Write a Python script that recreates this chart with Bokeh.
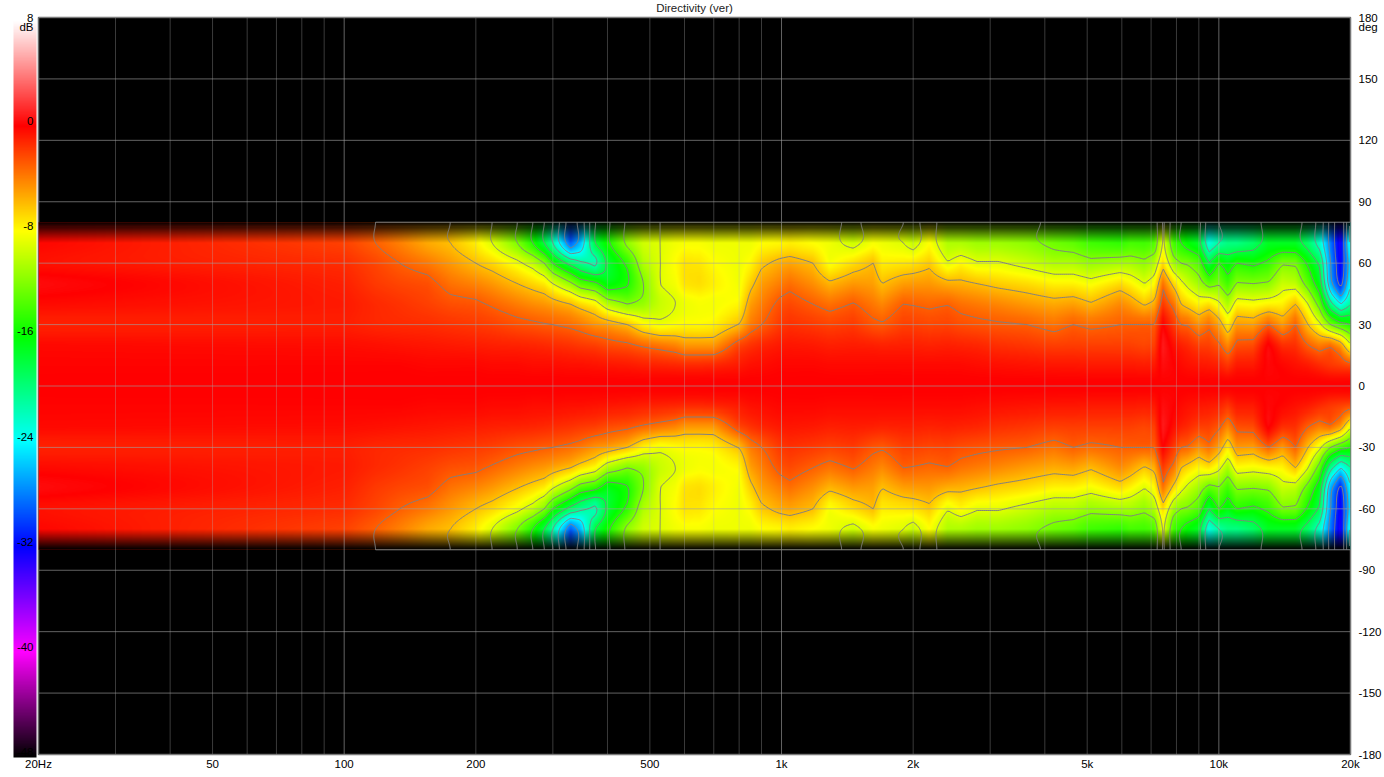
import numpy as np
from bokeh.embed import file_html
from bokeh.models import BoxAnnotation, ColorBar, FixedTicker, LinearAxis, LinearColorMapper, Range1d
from bokeh.plotting import figure
from bokeh.resources import INLINE

TITLE = "Directivity (ver)"
scale_db = [8, 0, -8, -16, -24, -32, -40, -48]
scale_colors = [(255,255,255),(255,0,0),(255,255,0),(0,255,0),(0,255,255),(0,0,255),(255,0,255),(0,0,0)]
x_ticks = [20, 50, 100, 200, 500, 1000, 2000, 5000, 10000, 20000]
x_labels = ["20Hz", "50", "100", "200", "500", "1k", "2k", "5k", "10k", "20k"]
y_ticks = [-180, -150, -120, -90, -60, -30, 0, 30, 60, 90, 120, 150, 180]
minor_freqs = [30,40,50,60,70,80,90,200,300,400,500,600,700,800,900,2000,3000,4000,5000,6000,7000,8000,9000,20000]
decade_freqs = [100, 1000, 10000]
angles = [0, 10, 20, 30, 40, 50, 60, 70]
levels = [-33, -30, -27, -24, -21, -18, -15, -12, -9, -6, -3]
measured_from = 118

freqs = [20,100,118,134,155,175,200,218,249,270,287,300,329,347,375,400,444,483,528,572,600,650,700,800,850,900,
         990,1045,1180,1290,1460,1620,1700,1900,2000,2180,2400,2570,2800,3130,3640,4200,4650,5100,5950,6280,6760,
         7130,7460,7900,8200,8500,9000,9500,10000,10500,11000,12000,13000,14000,15000,16000,17000,18000,19000,20000]
# dB at 0,10,...,70 degrees, one list per frequency
f20 = [0,-.1,-.3,-1,-.3,.3,-.5,-.2]
f100 = [0,-.1,-.4,-.9,-.8,-1,-1.4,-2]
f118 = [0,-.1,-.5,-1.2,-1.3,-1.8,-2.2,-3]
f134 = [0,-.1,-.6,-1.3,-1.6,-2.2,-3,-4]
f155 = [0,-.2,-.7,-1.4,-2,-2.5,-3.8,-5.3]
f175 = [0,-.2,-.8,-1.6,-2.5,-3.6,-4.8,-6]
f200 = [0,-.2,-.9,-1.8,-2.7,-4.2,-6,-7.5]
f218 = [0,-.3,-1,-2,-3.2,-4.8,-6.8,-9]
f249 = [0,-.3,-1.1,-2.5,-4,-6,-8.5,-12]
f270 = [0,-.4,-1.2,-2.7,-4.5,-6.8,-10,-15]
f287 = [0,-.4,-1.3,-2.9,-4.8,-7.5,-12,-18]
f300 = [0,-.4,-1.4,-3,-5.2,-9,-15,-21]
f329 = [0,-.5,-1.6,-3.4,-6,-11.5,-19,-29]
f347 = [0,-.5,-1.8,-3.8,-7,-13.5,-20.5,-26]
f375 = [0,-.6,-2,-4.6,-8,-14.5,-21.5,-18]
f400 = [0,-.7,-2.4,-5,-10.5,-16.5,-17.5,-15.5]
f444 = [0,-.8,-2.7,-6,-12,-15.2,-14.5,-11.5]
f483 = [0,-1,-3.3,-7.7,-11.3,-12,-10.5,-9.5]
f528 = [0,-1.1,-3.8,-8.4,-9.7,-9,-9,-9]
f572 = [0,-1.2,-4.2,-8,-9,-8.3,-8,-8.4]
f600 = [0,-1.3,-4.8,-7.8,-8.5,-7.2,-7.2,-8.2]
f650 = [0,-1.3,-4.8,-7.8,-8.2,-7,-7.3,-8.2]
f700 = [0,-1.2,-4.8,-7.6,-8.3,-7.6,-8,-8.5]
f800 = [0,-.8,-2.2,-5.9,-7.8,-8.4,-8.5,-8.5]
f850 = [0,-.5,-1.6,-3.8,-5,-6.5,-7.8,-8.5]
f900 = [0,-.4,-1.2,-3,-4,-5,-6.4,-8]
f990 = [0,-.2,-.8,-1.8,-2.6,-4,-5.5,-7.8]
f1045 = [0,-.2,-.7,-1.5,-2.3,-3.5,-5.2,-7.5]
f1180 = [0,-.2,-.8,-1.8,-3,-4.5,-6,-8]
f1290 = [0,-.3,-1,-2.1,-3.6,-5.7,-8.2,-8.5]
f1460 = [0,-.3,-.9,-1.8,-2.9,-4.8,-7,-9.5]
f1620 = [0,-.3,-1,-2.6,-3.8,-5,-6,-8.2]
f1700 = [0,-.3,-1.1,-2.8,-4.3,-6,-7.5,-8.5]
f1900 = [0,-.3,-1,-2,-3,-5,-7.3,-9]
f2000 = [0,-.3,-1,-2,-3.1,-4.9,-7.2,-9.7]
f2180 = [0,-.3,-1.1,-2.2,-3.3,-4.8,-6.4,-8]
f2400 = [0,-.3,-1,-2.1,-3.1,-5.5,-8.8,-10.5]
f2570 = [0,-.3,-1.1,-2.4,-3.6,-5.6,-7.9,-10.5]
f2800 = [0,-.4,-1.2,-2.6,-3.9,-6,-8.8,-11]
f3130 = [0,-.5,-1.5,-2.8,-4.3,-6.5,-8.8,-11]
f3640 = [0,-.6,-1.7,-3,-4.9,-7,-9.6,-11.5]
f4200 = [0,-.7,-2,-3.6,-5.4,-7.7,-10.5,-12.5]
f4650 = [0,-.7,-1.9,-3,-5.1,-7.7,-10.5,-13]
f5100 = [0,-.8,-2,-3.4,-5.8,-8.3,-11.3,-14]
f5950 = [0,-.8,-2,-3,-4.4,-7,-10.8,-14.5]
f6280 = [0,-.8,-2,-3,-5,-7.7,-10.8,-13.8]
f6760 = [0,-.9,-2.2,-3,-6.2,-9,-11.5,-14]
f7130 = [0,-.8,-2,-3,-5.5,-8,-10.5,-13.5]
f7460 = [0,.4,.8,0,-1.8,-3.6,-6.8,-8.5]
f7900 = [0,0,-.5,-1.8,-3.7,-6.8,-11,-14]
f8200 = [0,-.3,-1,-3,-6,-8.5,-12,-15]
f8500 = [0,-.5,-1.3,-3.2,-6.7,-9.6,-12.3,-16]
f9000 = [0,-.7,-2,-4.5,-7.8,-10.9,-13.5,-17]
f9500 = [0,-.8,-2,-3.5,-7.2,-13,-18,-23]
f10000 = [0,-1,-2.7,-5,-8.5,-12.2,-15,-21]
f10500 = [0,-1.7,-4.3,-7.4,-10.7,-14,-16.5,-20]
f11000 = [0,-.8,-2.5,-4.8,-8,-11.8,-15,-20]
f12000 = [0,-.8,-2.4,-5,-8.3,-12,-15.5,-19]
f13000 = [0,.2,.1,-3,-7.8,-11.7,-14.5,-17]
f14000 = [0,-.2,-1.5,-4.8,-7.7,-9.7,-12.3,-17]
f15000 = [0,-.5,-1.5,-3,-6,-10,-12.5,-17]
f16000 = [0,-.8,-3,-6,-9,-13,-15.5,-19]
f17000 = [0,-1.3,-4,-8.5,-13,-16.5,-18.5,-22]
f18000 = [0,-1.7,-3.5,-12,-20,-26,-27,-28]
f19000 = [0,-2,-5,-14,-24,-31,-32.5,-33]
f20000 = [0,-2.4,-8.7,-15,-21,-24,-25,-23]
columns = [f20,f100,f118,f134,f155,f175,f200,f218,f249,f270,f287,f300,f329,f347,f375,f400,f444,f483,f528,f572,f600,f650,
           f700,f800,f850,f900,f990,f1045,f1180,f1290,f1460,f1620,f1700,f1900,f2000,f2180,f2400,f2570,f2800,f3130,f3640,
           f4200,f4650,f5100,f5950,f6280,f6760,f7130,f7460,f7900,f8200,f8500,f9000,f9500,f10000,f10500,f11000,f12000,
           f13000,f14000,f15000,f16000,f17000,f18000,f19000,f20000]

# Shade between the read values, as the original's display does
half = np.array(columns, dtype=float).T                 # angle, frequency
table = np.vstack([half[-1:], half[::-1][:-1], half, half[-1:]])  # -80, -70..70, +80
row_angles = np.arange(-80, 81, 10.0)
nx, ny = 1312, 324
log_grid = np.linspace(np.log10(20), np.log10(20000), nx)
freq_grid = 10 ** log_grid
by_freq = np.array([np.interp(log_grid, np.log10(freqs), r) for r in table])
angle_grid = np.linspace(-80, 80, ny)
pos = (angle_grid + 80) / 10
i = np.clip(pos.astype(int), 0, len(row_angles) - 2)
t = (pos - i)[:, None]
p1, p2 = by_freq[i], by_freq[i + 1]
p0, p3 = by_freq[np.clip(i - 1, 0, None)], by_freq[np.clip(i + 2, None, len(row_angles) - 1)]
z = 0.5 * (2*p1 + (p2-p0)*t + (2*p0-5*p1+4*p2-p3)*t**2 + (3*p1-p0-3*p2+p3)*t**3)

# colour scale
n_pal = 1024
pal_db = np.linspace(-48, 8, n_pal)
order = np.argsort(scale_db)
stops = np.array(scale_colors, dtype=float)[order]
sdb = np.array(scale_db, dtype=float)[order]
palette = ["#%02x%02x%02x" % tuple(int(round(np.interp(d, sdb, stops[:, c]))) for c in range(3)) for d in pal_db]
mapper = LinearColorMapper(palette=palette, low=-48, high=8)

FS = "11.5px"

p = figure(width=1384, height=769, frame_width=1312, frame_height=737, x_axis_type="log", x_range=(20, 20000),
           y_range=(-180, 180), y_axis_location="right", toolbar_location=None, output_backend="svg",
           min_border_left=38, min_border_right=34, min_border_top=17, min_border_bottom=15,
           background_fill_color="black", border_fill_color="white",
           outline_line_color="#6a6a6a", outline_line_width=1.5, title=TITLE)
p.title.align = "center"
p.title.offset = -4
p.title.standoff = 3
p.title.vertical_align = "top"
p.title.text_font = "Liberation Sans"
p.title.text_font_size = FS
p.title.text_font_style = "normal"
p.title.text_color = "#222222"
p.grid.visible = False
p.image(image=[z], x=20, y=-80, dw=19980, dh=160, color_mapper=mapper)

# the fade to black at the edge of the measured span
fade = np.zeros((ny, 1, 4), dtype=np.uint8)
fade[..., 3] = (np.clip((np.abs(angle_grid) - 70) / 10, 0, 1)[:, None] * 255).astype(np.uint8)
p.image_rgba(image=[fade.view(np.uint32).reshape(ny, 1)], x=20, y=-80, dw=19980, dh=160)

p.segment(x0=minor_freqs, x1=minor_freqs, y0=-180, y1=180, line_color="#b4b4b4", line_alpha=0.32, line_width=1)
p.segment(x0=decade_freqs, x1=decade_freqs, y0=-180, y1=180, line_color="#b4b4b4", line_alpha=0.55, line_width=1)
p.segment(x0=20, x1=20000, y0=y_ticks, y1=y_ticks, line_color="#a0a0a0", line_alpha=0.62, line_width=1)

cr = p.contour(freq_grid[::2], angle_grid, z[:, ::2], levels, line_color="#808080", line_width=1)
cr.line_renderer.glyph.line_color = "#808080"
p.multi_line(xs=[[measured_from, 20000], [measured_from, 20000]], ys=[[80, 80], [-80, -80]],
             line_color="#808080", line_width=1)

def plain(ax):
    ax.major_tick_out = 0
    ax.major_tick_in = 0
    ax.minor_tick_out = 0
    ax.minor_tick_in = 0
    ax.major_tick_line_color = None
    ax.minor_tick_line_color = None
    ax.axis_line_color = None
    ax.major_label_text_font = "Liberation Sans"
    ax.major_label_text_font_size = FS
    ax.major_label_text_color = "black"

p.xaxis.ticker = FixedTicker(ticks=x_ticks)
p.xaxis.major_label_overrides = {t_: l for t_, l in zip(x_ticks, x_labels)}
plain(p.xaxis[0])
p.xaxis[0].major_label_standoff = 3

# right scale; the unit is one more label of it
deg_at = 175.5
rt = p.yaxis[0]
rt.ticker = FixedTicker(ticks=y_ticks + [deg_at])
rt.major_label_overrides = {**{t_: str(t_) for t_ in y_ticks}, deg_at: "deg"}
plain(rt)
rt.major_label_standoff = 8

# dB labels sit on the colour bar, as a left axis on its own range
db_top = 8 - (17 - 15) / 13.16
p.extra_y_ranges = {"db": Range1d(start=8 - (754 - 15) / 13.16, end=db_top)}
db_unit_at = 7.1
db_positions = [db_top if v == 8 else v for v in scale_db]
lt = LinearAxis(y_range_name="db", ticker=FixedTicker(ticks=db_positions + [db_unit_at]),
                major_label_overrides={**{q: str(v) for q, v in zip(db_positions, scale_db)}, db_unit_at: "dB"})
plain(lt)
lt.major_label_standoff = 5
lt.level = "annotation"
p.add_layout(lt, "left")

cb = ColorBar(color_mapper=mapper, width=23, height=737, location=(-25, -3), padding=0, margin=0, level="guide",
              ticker=FixedTicker(ticks=[]), major_label_text_font_size="0px", major_tick_line_color=None,
              bar_line_color=None, background_fill_color=None, border_line_color=None)
p.add_layout(cb)
p.add_layout(BoxAnnotation(left=-38, right=-31, top=-17, bottom=752, left_units="screen", right_units="screen",
                           top_units="screen", bottom_units="screen", fill_color="#f0f0f0", fill_alpha=1,
                           line_color=None, level="guide"))

open("out.html", "w").write(file_html(p, INLINE))
